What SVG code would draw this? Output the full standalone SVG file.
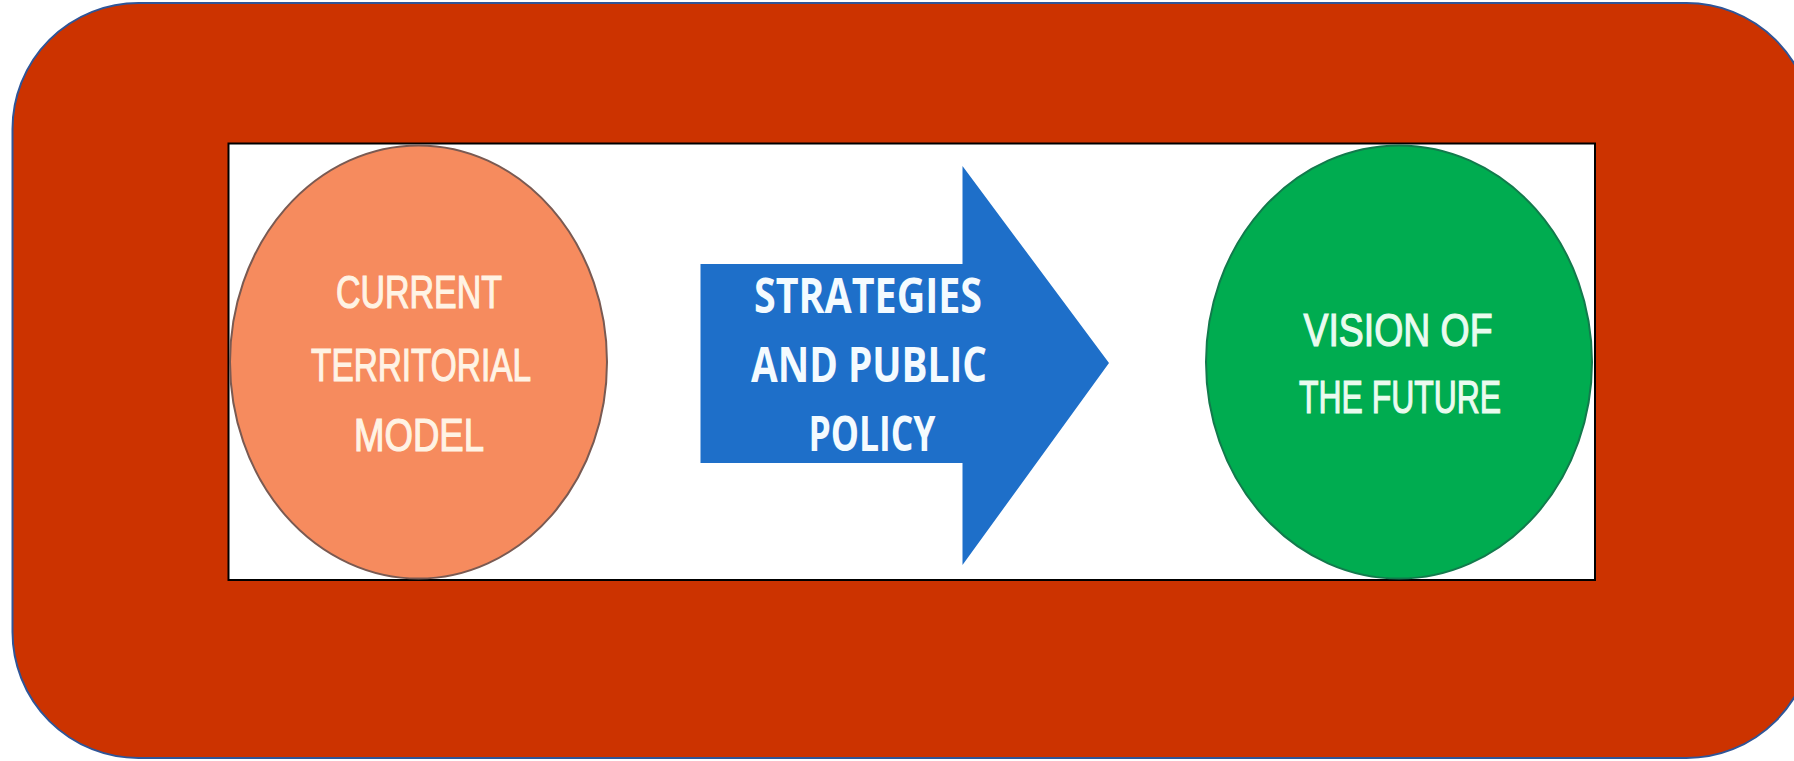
<svg xmlns="http://www.w3.org/2000/svg" width="1794" height="761" viewBox="0 0 1794 761">
<style>
.circtext{font-family:"Liberation Sans",Arial,sans-serif;font-size:46px;font-weight:normal;text-anchor:middle;stroke-width:1.2px;}
.arrtext{font-family:"Open Sans","Liberation Sans",sans-serif;font-size:48px;font-weight:bold;fill:#F4FBFF;text-anchor:middle;}
</style>
<rect width="1794" height="761" fill="#ffffff"/>
<g id="frame">
<rect x="12.5" y="3" width="1800" height="755" rx="126" ry="126" fill="#CC3300" stroke="#2F5597" stroke-width="2"/>
</g>
<g id="panel">
<rect x="228.5" y="143.5" width="1366.5" height="436.5" fill="#ffffff" stroke="#000000" stroke-width="2"/>
</g>
<g id="current">
<ellipse cx="418.5" cy="362" rx="188.5" ry="216.5" fill="#F68B5E" stroke="#7A5A52" stroke-width="2"/>
<text class="circtext" fill="#FFF3E4" stroke="#FFF3E4" x="419" y="308" textLength="166" lengthAdjust="spacingAndGlyphs">CURRENT</text>
<text class="circtext" fill="#FFF3E4" stroke="#FFF3E4" x="421" y="381" textLength="220" lengthAdjust="spacingAndGlyphs">TERRITORIAL</text>
<text class="circtext" fill="#FFF3E4" stroke="#FFF3E4" x="419" y="451" textLength="130" lengthAdjust="spacingAndGlyphs">MODEL</text>
</g>
<g id="connectors">
<g id="strategies">
<polygon points="700.5,264 962.5,264 962.5,166 1109,363 962.5,565 962.5,463 700.5,463" fill="#1E6FC9"/>
<text class="arrtext" x="868" y="313" textLength="228" lengthAdjust="spacingAndGlyphs">STRATEGIES</text>
<text class="arrtext" x="869" y="382" textLength="236" lengthAdjust="spacingAndGlyphs">AND PUBLIC</text>
<text class="arrtext" x="872" y="451" textLength="127" lengthAdjust="spacingAndGlyphs">POLICY</text>
</g>
</g>
<g id="vision">
<ellipse cx="1399" cy="362" rx="193" ry="216.5" fill="#00AC50" stroke="#127A4C" stroke-width="2"/>
<text class="circtext" fill="#EAFBEF" stroke="#EAFBEF" x="1398" y="346" textLength="189" lengthAdjust="spacingAndGlyphs">VISION OF</text>
<text class="circtext" fill="#EAFBEF" stroke="#EAFBEF" x="1400" y="413" textLength="202" lengthAdjust="spacingAndGlyphs">THE FUTURE</text>
</g>
</svg>
